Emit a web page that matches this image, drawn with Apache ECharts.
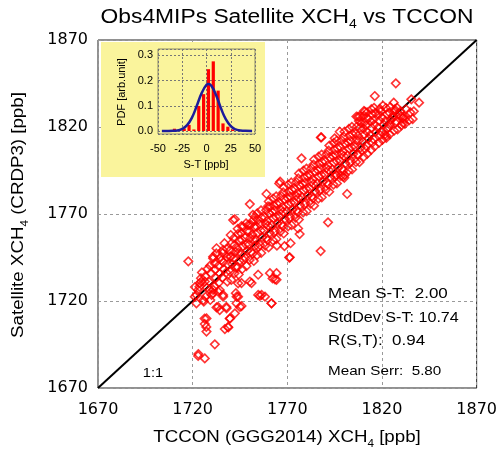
<!DOCTYPE html>
<html><head><meta charset="utf-8">
<script src="https://cdn.jsdelivr.net/npm/echarts@6/dist/echarts.min.js"></script>
<style>html,body{margin:0;padding:0;background:#fff}#c{width:500px;height:455px}</style>
</head><body><div id="c"></div>
<script>
// ---- data ----
const mainTicks = [1670, 1720, 1770, 1820, 1870];
const insetXTicks = [-50, -25, 0, 25, 50];
const oneToOne = [1670, 1870];

// TCCON (x) vs satellite (y) XCH4 matchups [ppb]
const matchups = [
[1717.7,1742.8],[1722.9,1688.4],[1726.4,1687],[1731.7,1695.1],[1727.3,1702.4],[1726.4,1706.8],[1727.3,1710],[1737,1703.9],[1738.8,1704.8],[1739.7,1710],
[1742.3,1712.9],[1745.8,1717.1],[1737.9,1715.8],[1732.6,1716.3],[1734.3,1714.8],[1743.2,1718.7],[1744,1722.5],[1742.8,1724.5],[1736.1,1723.5],[1730.8,1724.5],
[1729.1,1726.4],[1722,1723.5],[1722,1718.7],[1725.9,1719.7],[1721.2,1728],[1723.8,1730.3],[1726.4,1731.2],[1730.8,1726.4],[1733.4,1725.5],[1745.8,1730.3],
[1750.2,1731.2],[1754.6,1735.1],[1760.8,1736],[1764.3,1732.2],[1754.6,1723.5],[1756.4,1723.5],[1761.7,1718.7],[1751.1,1730.3],[1731.7,1741.6],[1735.2,1743.5],
[1730.8,1745.5],[1739.7,1745.5],[1750.2,1775.7],[1760.8,1774.2],[1741.4,1766.5],[1745.8,1763],[1749.3,1763.6],[1752.9,1768.4],[1732.6,1750.3],[1736.1,1749.3],
[1730.8,1744.5],[1724.5,1731.1],[1722.9,1726.3],[1721.1,1722.5],[1725.6,1720.5],[1730,1723.5],[1734.3,1726.3],[1736.1,1722.5],[1744,1730.2],[1758.2,1722.5],
[1743.2,1722.5],[1733.4,1716.6],[1737.8,1716.6],[1726.3,1709.9],[1727.2,1705.1],[1739.6,1709.9],[1745,1716.6],[1738.7,1705.1],
[1801.6,1781.5],[1791.5,1765.2],[1787.6,1748.7],[1771.3,1745.1],[1771.7,1753.2],[1768.5,1751.5],[1764.5,1751.8],[1775.7,1761.7],[1776.5,1758.5],[1764.3,1736],
[1763.5,1732.5],[1766.2,1788.6],[1800.3,1792.4],[1816.2,1837.8],[1810.9,1828.8],[1807.4,1825.9],[1788,1814],[1797.7,1817.3],[1795,1813.5],[1777.5,1802],
[1809.1,1822.1],[1827.3,1845.1],[1835.5,1835.9],[1839.6,1834],[1826.2,1834],[1826.7,1829],[1830.2,1826.1],[1832,1824.6],[1831.1,1822.3],[1825.8,1825.2],
[1824.1,1821.4],[1821.4,1815.6],[1822.3,1813.7],[1759,1781.5],[1765.7,1787.6],[1742.3,1767],[1771,1745],[1762.2,1733],[1761.6,1718.7],
[1755.5,1723],[1723,1689.5],[1806.5,1826],[1810.5,1829.2],[1787.7,1814],[1796,1792.4],[1799.5,1791.5],
[1723.6,1728.2],[1724.4,1733.1],[1724.9,1736.4],
[1726.8,1722.4],[1727.5,1727.6],[1726.6,1734.2],[1727.9,1738.5],
[1729.3,1720.6],[1728.7,1731.0],[1729.6,1736.1],[1729.2,1740.3],
[1731.6,1728.4],[1732.3,1733.2],[1731.9,1738.0],[1732.5,1747.3],
[1733.8,1730.5],[1734.4,1735.8],[1733.6,1740.2],[1734.7,1745.1],
[1735.7,1733.4],[1736.5,1738.1],[1736.2,1742.3],[1735.9,1747.6],[1736.8,1753.2],
[1738.3,1731.2],[1737.7,1736.4],[1738.6,1741.0],[1738.1,1745.3],[1737.9,1750.1],
[1740.4,1732.1],[1739.8,1736.8],[1740.9,1741.2],[1740.2,1745.5],[1739.6,1749.0],[1740.7,1753.3],[1740.1,1757.9],
[1742.1,1735.9],[1742.8,1739.4],[1741.6,1744.6],[1742.5,1748.2],[1742.0,1752.1],[1741.7,1756.0],
[1744.3,1735.2],[1743.7,1739.6],[1744.9,1743.1],[1744.1,1747.8],[1743.5,1750.3],[1744.6,1754.9],[1744.0,1758.6],[1743.8,1761.5],
[1746.2,1738.4],[1746.9,1743.6],[1745.7,1747.2],[1746.5,1751.4],[1746.0,1755.1],[1745.6,1759.0],[1746.7,1762.7],
[1748.4,1740.1],[1747.8,1744.6],[1748.9,1748.9],[1748.1,1752.4],[1747.6,1756.5],[1748.7,1760.2],[1748.2,1764.6],
[1750.1,1743.6],[1750.8,1748.2],[1749.6,1752.3],[1750.4,1756.1],[1749.9,1760.0],[1750.6,1763.9],
[1752.3,1743.0],[1751.7,1747.3],[1752.9,1751.6],[1752.1,1755.4],[1751.5,1758.2],[1752.6,1762.7],[1752.0,1766.4],[1751.8,1769.5],
[1754.0,1746.4],[1754.7,1751.1],[1753.5,1755.3],[1754.3,1759.2],[1753.8,1762.7],[1754.5,1766.6],[1754.1,1770.4],
[1756.2,1747.6],[1755.6,1752.1],[1756.8,1756.6],[1756.0,1760.5],[1755.4,1764.2],[1756.5,1767.8],[1756.1,1772.1],
[1758.3,1751.9],[1759.0,1756.1],[1757.8,1760.4],[1758.6,1764.3],[1758.1,1768.1],[1758.8,1772.2],
[1760.1,1750.8],[1759.5,1755.0],[1760.7,1759.2],[1759.9,1763.3],[1759.3,1766.0],[1760.4,1770.5],[1759.8,1774.4],[1760.2,1777.2],
[1762.4,1754.9],[1763.1,1759.4],[1761.9,1763.6],[1762.7,1767.6],[1762.2,1771.1],[1762.9,1774.9],[1762.5,1778.9],
[1764.2,1755.6],[1763.6,1760.2],[1764.8,1764.5],[1764.0,1768.4],[1763.4,1772.0],[1764.5,1775.8],[1764.1,1780.1],
[1766.3,1759.9],[1767.0,1764.1],[1765.8,1768.5],[1766.6,1772.4],[1766.1,1776.2],[1766.8,1780.3],
[1768.1,1758.8],[1767.5,1763.0],[1768.7,1767.2],[1767.9,1771.3],[1767.3,1774.0],[1768.4,1778.6],[1767.8,1782.4],[1768.2,1785.3],
[1770.4,1762.9],[1771.1,1767.4],[1769.9,1771.6],[1770.7,1775.6],[1770.2,1779.1],[1770.9,1782.9],[1770.5,1786.9],
[1772.2,1763.6],[1771.6,1768.2],[1772.8,1772.5],[1772.0,1776.4],[1771.4,1780.0],[1772.5,1783.8],[1772.1,1788.1],
[1774.3,1767.9],[1775.0,1772.1],[1773.8,1776.5],[1774.6,1780.4],[1774.1,1784.2],[1774.8,1788.3],
[1776.1,1766.8],[1775.5,1771.0],[1776.7,1775.2],[1775.9,1779.3],[1775.3,1782.0],[1776.4,1786.6],[1775.8,1790.4],[1776.2,1793.3],
[1778.4,1770.9],[1779.1,1775.4],[1777.9,1779.6],[1778.7,1783.6],[1778.2,1787.1],[1778.9,1790.9],[1778.5,1794.9],
[1780.2,1771.6],[1779.6,1776.2],[1780.8,1780.5],[1780.0,1784.4],[1779.4,1788.0],[1780.5,1791.8],[1780.1,1796.1],
[1782.3,1775.9],[1783.0,1780.1],[1781.8,1784.5],[1782.6,1788.4],[1782.1,1792.2],[1782.8,1796.3],
[1784.1,1774.8],[1783.5,1779.0],[1784.7,1783.2],[1783.9,1787.3],[1783.3,1790.0],[1784.4,1794.6],[1783.8,1798.4],[1784.2,1801.3],
[1786.4,1778.9],[1787.1,1783.4],[1785.9,1787.6],[1786.7,1791.6],[1786.2,1795.1],[1786.9,1798.9],[1786.5,1802.9],
[1788.2,1779.6],[1787.6,1784.2],[1788.8,1788.5],[1788.0,1792.4],[1787.4,1796.0],[1788.5,1799.8],[1788.1,1804.1],
[1790.3,1783.9],[1791.0,1788.1],[1789.8,1792.5],[1790.6,1796.4],[1790.1,1800.2],[1790.8,1804.3],
[1792.1,1782.8],[1791.5,1787.0],[1792.7,1791.2],[1791.9,1795.3],[1791.3,1798.0],[1792.4,1802.6],[1791.8,1806.4],[1792.2,1809.3],
[1794.4,1786.9],[1795.1,1791.4],[1793.9,1795.6],[1794.7,1799.6],[1794.2,1803.1],[1794.9,1806.9],[1794.5,1810.9],
[1796.2,1787.6],[1795.6,1792.2],[1796.8,1796.5],[1796.0,1800.4],[1795.4,1804.0],[1796.5,1807.8],[1796.1,1812.1],
[1798.3,1791.9],[1799.0,1796.1],[1797.8,1800.5],[1798.6,1804.4],[1798.1,1808.2],[1798.8,1812.3],
[1800.1,1790.8],[1799.5,1795.0],[1800.7,1799.2],[1799.9,1803.3],[1799.3,1806.0],[1800.4,1810.6],[1799.8,1814.4],[1800.2,1817.3],
[1802.4,1794.9],[1803.1,1799.4],[1801.9,1803.6],[1802.7,1807.6],[1802.2,1811.1],[1802.9,1814.9],[1802.5,1818.9],
[1804.2,1795.6],[1803.6,1800.2],[1804.8,1804.5],[1804.0,1808.4],[1803.4,1812.0],[1804.5,1815.8],[1804.1,1820.1],
[1806.3,1799.9],[1807.0,1804.1],[1805.8,1808.5],[1806.6,1812.4],[1806.1,1816.2],[1806.8,1820.3],
[1808.1,1799.8],[1807.5,1804.0],[1808.7,1808.2],[1807.9,1812.3],[1807.3,1815.0],[1808.4,1819.6],[1807.8,1823.4],[1808.2,1826.0],
[1810.4,1802.9],[1811.1,1807.4],[1809.9,1811.6],[1810.7,1815.6],[1810.2,1819.1],[1810.9,1822.9],[1810.5,1826.5],
[1812.2,1804.6],[1811.6,1809.2],[1812.8,1813.5],[1812.0,1817.4],[1811.4,1821.0],[1812.5,1824.8],[1812.1,1828.4],
[1814.3,1806.9],[1815.0,1811.1],[1813.8,1815.5],[1814.6,1819.4],[1814.1,1823.2],[1814.8,1827.3],[1814.4,1830.2],
[1816.1,1808.8],[1815.5,1813.0],[1816.7,1817.2],[1815.9,1821.3],[1815.3,1824.0],[1816.4,1828.1],[1815.8,1831.0],
[1818.4,1810.9],[1819.1,1815.4],[1817.9,1819.6],[1818.7,1823.6],[1818.2,1827.1],[1818.9,1830.4],
[1820.2,1812.6],[1819.6,1817.2],[1820.8,1821.5],[1820.0,1825.4],[1819.4,1829.0],[1820.5,1832.3],
[1822.3,1814.9],[1823.0,1819.1],[1821.8,1823.5],[1822.6,1827.4],[1822.1,1830.9],
[1824.1,1815.8],[1823.5,1820.0],[1824.7,1824.2],[1823.9,1828.3],[1824.4,1831.5],
[1826.4,1817.9],[1827.1,1822.4],[1825.9,1826.6],[1826.7,1830.1],
[1828.2,1818.6],[1827.6,1823.2],[1828.8,1827.5],[1828.0,1831.0],
[1830.3,1820.9],[1831.0,1825.1],[1829.8,1829.0],
[1832.1,1821.8],[1831.5,1826.0],[1832.7,1830.2],
[1834.4,1823.9],[1835.0,1828.4],
[1836.2,1824.6],[1836.8,1829.0]
];

// inset histogram of S-T differences
const histCenters = [-38, -33, -28, -23, -18, -13, -8, -3, 2, 7, 12, 17, 22, 27, 32];
const histPdf     = [0.004, 0.009, 0.007, 0.010, 0.024, 0.006, 0.099, 0.146, 0.245, 0.276, 0.160, 0.030, 0.017, 0.006, 0.002];
// fitted normal curve (as drawn)
const curveX = [-46, -40, -35, -30, -25, -20, -15, -10, -5, 0, 2, 5, 10, 15, 20, 25, 30, 35, 40, 47];
const curveY = [0.0000, 0.0001, 0.0005, 0.0022, 0.008, 0.023, 0.053, 0.100, 0.150, 0.183, 0.186, 0.179, 0.141, 0.089, 0.046, 0.019, 0.006, 0.002, 0.0004, 0.0000];

const statLines = ['Mean S-T:  2.00', 'StdDev S-T: 10.74', 'R(S,T):  0.94'];
const serrLine = 'Mean Serr:  5.80';

// ---- chart ----
const FONT = '"Liberation Sans", Arial, Helvetica, sans-serif';
const SX = 1.17;
const chart = echarts.init(document.getElementById('c'), null, {renderer: 'canvas'});

function txt(x, y, text, size, opts) {
  opts = opts || {};
  return {
    type: 'text', x: x, y: y, z: 20, rotation: opts.rot || 0,
    scaleX: opts.sx || 1, scaleY: 1,
    style: {
      text: text, x: 0, y: 0, fill: '#000',
      font: size + 'px ' + FONT,
      fontSize: size, fontFamily: FONT,
      align: opts.align || 'center', verticalAlign: 'middle',
      lineHeight: size + 6,
      rich: { sub: { fontSize: Math.round(size * 0.62), fontFamily: FONT, fill: '#000', verticalAlign: 'bottom', lineHeight: Math.round(size * 0.62) } }
    }
  };
}

const option = {
  backgroundColor: '#fff',
  animation: false,
  grid: [
    {left: 98, top: 40, width: 379, height: 348, show: true, borderColor: '#222', borderWidth: 1, z: 0},
    {left: 158, top: 49, width: 97, height: 85, show: true, backgroundColor: '#faf49c', borderColor: '#8c8a66', borderWidth: 1, z: 3}
  ],
  xAxis: [
    {gridIndex: 0, type: 'value', min: mainTicks[0], max: mainTicks[mainTicks.length - 1], interval: 50,
     axisLine: {show: false}, axisTick: {show: false},
     axisLabel: {color: '#000', fontSize: 16, fontFamily: '"DejaVu Sans", sans-serif', margin: 14, formatter: v => String(v)},
     splitLine: {show: true, lineStyle: {color: '#9a9a9a', type: [3, 3], width: 1}}},
    {gridIndex: 1, type: 'value', min: insetXTicks[0], max: insetXTicks[insetXTicks.length - 1], interval: 25, z: 4,
     axisLine: {show: false}, axisTick: {show: false},
     axisLabel: {color: '#000', fontSize: 11, fontFamily: FONT, margin: 9, formatter: v => String(v)},
     splitLine: {show: true, lineStyle: {color: '#777', type: [2, 2], width: 1}}}
  ],
  yAxis: [
    {gridIndex: 0, type: 'value', min: mainTicks[0], max: mainTicks[mainTicks.length - 1], interval: 50,
     axisLine: {show: false}, axisTick: {show: false},
     axisLabel: {color: '#000', fontSize: 16, fontFamily: '"DejaVu Sans", sans-serif', margin: 10, formatter: v => String(v)},
     splitLine: {show: true, lineStyle: {color: '#9a9a9a', type: [3, 3], width: 1}}},
    {gridIndex: 1, type: 'value', min: -0.012, max: 0.325, splitNumber: 3, z: 4,
     axisLine: {show: false}, axisTick: {show: false},
     axisLabel: {color: '#000', fontSize: 11, fontFamily: FONT, margin: 5, showMinLabel: false, showMaxLabel: false,
                 formatter: v => v.toFixed(1)},
     splitLine: {show: true, lineStyle: {color: '#777', type: [2, 2], width: 1}}}
  ],
  series: [
    {type: 'line', xAxisIndex: 0, yAxisIndex: 0, z: 1, symbol: 'none', silent: true,
     data: [[oneToOne[0], oneToOne[0]], [oneToOne[1], oneToOne[1]]],
     lineStyle: {color: '#000', width: 2}},
    {type: 'scatter', xAxisIndex: 0, yAxisIndex: 0, z: 2, symbol: 'diamond', symbolSize: 8.5, clip: true,
     data: matchups,
     itemStyle: {color: 'rgba(255,255,255,0)', borderColor: '#ff0000', borderWidth: 1.6}},
    {type: 'bar', xAxisIndex: 1, yAxisIndex: 1, z: 5, barWidth: 3.2,
     data: histCenters.map((c, i) => [c, histPdf[i]]),
     itemStyle: {color: '#ff0000'}},
    {type: 'line', xAxisIndex: 1, yAxisIndex: 1, z: 6, symbol: 'none', smooth: true,
     data: curveX.map((c, i) => [c, curveY[i]]),
     lineStyle: {color: '#1c1c9c', width: 2.5}}
  ],
  graphic: [
    {type: 'rect', z: 1, shape: {x: 101, y: 42, width: 164, height: 135}, style: {fill: '#faf49c'}},
    txt(287, 18, 'Obs4MIPs Satellite XCH{sub|4} vs TCCON', 19.5, {sx: SX}),
    txt(287, 438, 'TCCON (GGG2014) XCH{sub|4} [ppb]', 16, {sx: SX}),
    txt(19, 215, 'Satellite XCH{sub|4} (CRDP3) [ppb]', 16, {sx: SX, rot: Math.PI / 2}),
    txt(328, 294, statLines[0], 14.5, {sx: SX, align: 'left'}),
    txt(328, 318, statLines[1], 14.5, {sx: SX * 0.95, align: 'left'}),
    txt(328, 341, statLines[2], 14.5, {sx: SX, align: 'left'}),
    txt(328, 371, serrLine, 13, {sx: SX, align: 'left'}),
    txt(153, 374, '1:1', 12.5, {sx: SX}),
    txt(122, 92, 'PDF [arb.unit]', 11, {rot: Math.PI / 2}),
    txt(206, 165, 'S-T [ppb]', 11, {})
  ]
};
chart.setOption(option);
</script>
</body></html>
